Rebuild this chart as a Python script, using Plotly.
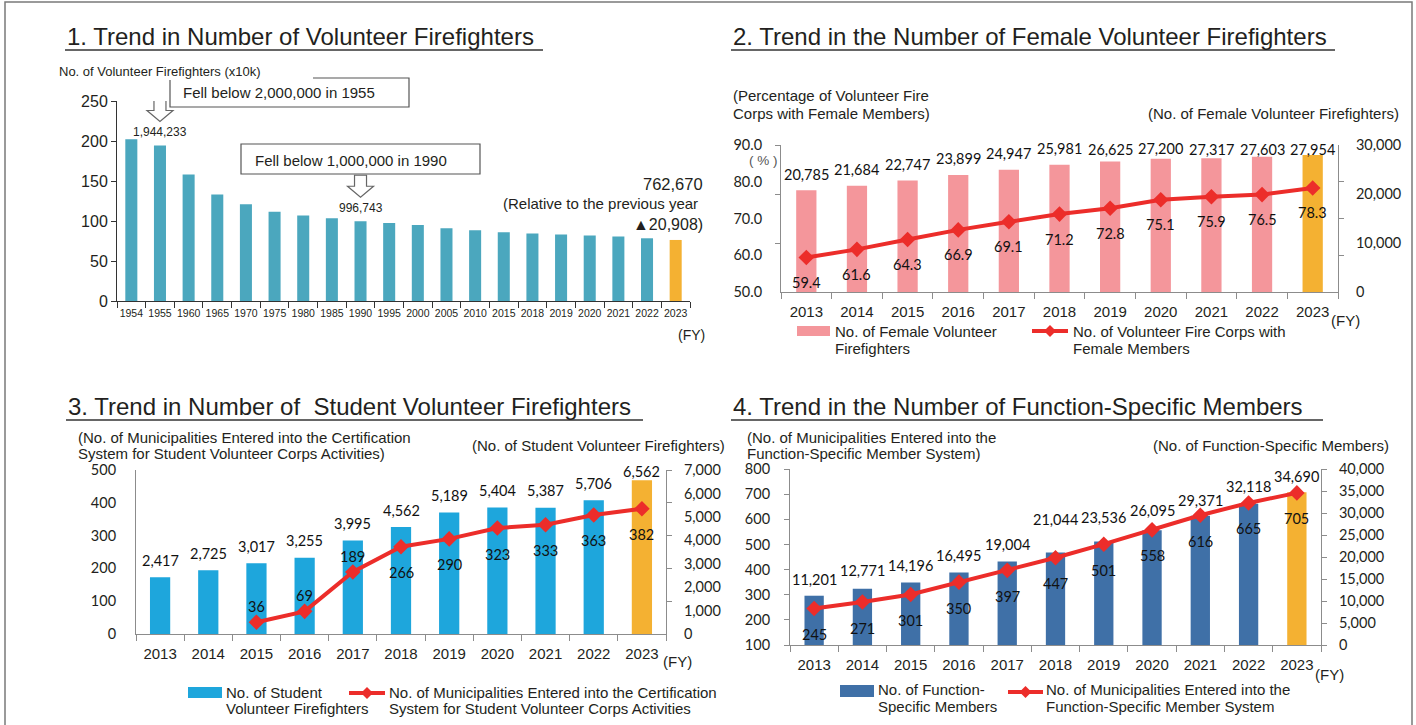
import plotly.graph_objects as go

W, H = 1416, 725
SANS = "Liberation Sans, Arial, Helvetica, sans-serif"
NUM = "Lato, Carlito, Calibri, sans-serif"

# ---------------- data ----------------
years1 = ["1954", "1955", "1960", "1965", "1970", "1975", "1980", "1985", "1990", "1995",
          "2000", "2005", "2010", "2015", "2018", "2019", "2020", "2021", "2022", "2023"]
volunteers_10k = [202.3, 194.4, 158.2, 133.0, 120.9, 111.7, 106.9, 103.3, 99.7, 97.6,
                  95.1, 90.8, 88.4, 86.0, 84.4, 83.2, 81.8, 80.5, 78.4, 76.3]
callout_years = ["1955", "1990"]
callout_labels = ["1,944,233", "996,743"]

years = ["2013", "2014", "2015", "2016", "2017", "2018", "2019", "2020", "2021", "2022", "2023"]
female_firefighters = [20785, 21684, 22747, 23899, 24947, 25981, 26625, 27200, 27317, 27603, 27954]
female_corps_pct = [59.4, 61.6, 64.3, 66.9, 69.1, 71.2, 72.8, 75.1, 75.9, 76.5, 78.3]

student_firefighters = [2417, 2725, 3017, 3255, 3995, 4562, 5189, 5404, 5387, 5706, 6562]
student_municipalities = [None, None, 36, 69, 189, 266, 290, 323, 333, 363, 382]

function_members = [11201, 12771, 14196, 16495, 19004, 21044, 23536, 26095, 29371, 32118, 34690]
function_municipalities = [245, 271, 301, 350, 397, 447, 501, 558, 616, 665, 705]

# label placement (style, not data)
student_line_label_side = ["", "", "up", "up", "up", "down", "down", "down", "down", "down", "down"]
function_bar_label_shift = [16, 18, 17, 17, 17, 33, 24, 20, 15, 17, 16]

# ---------------- styles ----------------
TEAL = "#4BA7BE"
ORANGE = "#F4B132"
PINK = "#F4969B"
SKY = "#1EA6DC"
STEEL = "#3F70A7"
RED = "#EC2D2A"
AX1 = "#333333"
AXG = "#8C8C8C"
TXT = "#231F20"


def px(x):
    return x / W


def py(y):
    return 1 - y / H


def colors(base, n):
    return [base] * (n - 1) + [ORANGE]


fig = go.Figure()

# ---------------- traces ----------------
fig.add_trace(go.Bar(x=years1, y=volunteers_10k, marker=dict(color=colors(TEAL, len(years1)), line_width=0),
                     width=0.42, xaxis="x", yaxis="y"))

fig.add_trace(go.Bar(x=years, y=female_firefighters, marker=dict(color=colors(PINK, len(years)), line_width=0),
                     width=0.4, xaxis="x2", yaxis="y2"))
fig.add_trace(go.Scatter(x=years, y=female_corps_pct, mode="lines+markers",
                         line=dict(color=RED, width=4), marker=dict(symbol="diamond", size=12, color=RED),
                         xaxis="x2", yaxis="y3"))

fig.add_trace(go.Bar(x=years, y=student_firefighters, marker=dict(color=colors(SKY, len(years)), line_width=0),
                     width=0.42, xaxis="x3", yaxis="y4"))
fig.add_trace(go.Scatter(x=years, y=student_municipalities, mode="lines+markers",
                         line=dict(color=RED, width=4), marker=dict(symbol="diamond", size=12, color=RED),
                         xaxis="x3", yaxis="y5"))

fig.add_trace(go.Bar(x=years, y=function_members, marker=dict(color=colors(STEEL, len(years)), line_width=0),
                     width=0.4, xaxis="x4", yaxis="y6"))
fig.add_trace(go.Scatter(x=years, y=function_municipalities, mode="lines+markers",
                         line=dict(color=RED, width=4), marker=dict(symbol="diamond", size=12, color=RED),
                         xaxis="x4", yaxis="y7"))

# empty traces that only carry the extra tick-mark axes
for xa, ya in [("x2", "y8"), ("x2", "y9"), ("x3", "y10")]:
    fig.add_trace(go.Scatter(x=[], y=[], xaxis=xa, yaxis=ya, hoverinfo="skip", showlegend=False))


# ---------------- axes ----------------
def cat_axis(x0, x1, anchor, color, size, cats, family=SANS, standoff=4):
    return dict(domain=[px(x0), px(x1)], anchor=anchor, type="category", categoryorder="array",
                categoryarray=cats, range=[-0.5, len(cats) - 0.5], autorange=False,
                showline=True, linecolor=color, automargin=False,
                linewidth=1, ticks="outside", tickson="boundaries", ticklen=6, tickcolor=color,
                tickangle=0, tickfont=dict(family=family, size=size, color=TXT), showgrid=False, zeroline=False,
                ticklabelstandoff=standoff, fixedrange=True)


def val_axis(y_bottom, y_top, anchor, rng, dtick, side, color, fmt, overlay=None, standoff=12, ticks=""):
    d = dict(anchor=anchor, range=rng, autorange=False, dtick=dtick, side=side, showline=True, linecolor=color,
             linewidth=1, automargin=False, ticks=ticks, ticklen=5, tickcolor=color,
             tickfont=dict(family=NUM, size=14.5, color=TXT), showgrid=False, zeroline=False,
             tickformat=fmt, ticklabelstandoff=standoff, fixedrange=True)
    if overlay:
        d["overlaying"] = overlay
    else:
        d["domain"] = [py(y_bottom), py(y_top)]
    return d


def tick_axis(anchor, overlay, side, rng, vals, color):
    return dict(anchor=anchor, overlaying=overlay, side=side, range=rng, autorange=False, tickvals=vals,
                ticks="outside", ticklen=5, tickcolor=color, showticklabels=False, showline=False,
                showgrid=False, zeroline=False, automargin=False, fixedrange=True)


fig.update_layout(
    width=W, height=H, margin=dict(l=0, r=0, t=0, b=0, pad=0, autoexpand=False), autosize=False,
    paper_bgcolor="white", plot_bgcolor="rgba(0,0,0,0)", showlegend=False,
    xaxis=cat_axis(117, 690, "y", AX1, 10.5, years1, standoff=2),
    yaxis=dict(domain=[py(301), py(101)], anchor="x", range=[0, 250], autorange=False, dtick=50, showline=True,
               linecolor=AX1, ticks="outside", ticklen=5, tickcolor=AX1, automargin=False,
               tickfont=dict(family=SANS, size=16, color=TXT), showgrid=False, zeroline=False, fixedrange=True),
    xaxis2=cat_axis(781, 1338, "y2", AXG, 15, years, standoff=6),
    yaxis2=val_axis(292, 145, "x2", [0, 30000], 10000, "right", AXG, ",d", standoff=14),
    yaxis3=val_axis(292, 145, "x2", [50, 90], 10, "left", AXG, ".1f", overlay="y2", standoff=15),
    yaxis8=tick_axis("x2", "y2", "left", [0, 30000], [10000, 20000, 30000], AXG),
    yaxis9=tick_axis("x2", "y2", "right", [50, 90], [60, 70, 80], AXG),
    xaxis3=cat_axis(136, 666, "y4", AXG, 15, years, standoff=6),
    yaxis4=val_axis(634, 470, "x3", [0, 7000], 1000, "right", AXG, ",d", standoff=14),
    yaxis5=val_axis(634, 470, "x3", [0, 500], 100, "left", AXG, "d", overlay="y4", standoff=16),
    yaxis10=tick_axis("x3", "y4", "right", [0, 500], [100, 200, 300, 400, 500], AXG),
    xaxis4=cat_axis(790, 1321, "y6", AXG, 15, years, standoff=6),
    yaxis6=val_axis(645, 469, "x4", [0, 40000], 5000, "right", AXG, ",d", standoff=9, ticks="outside"),
    yaxis7=val_axis(645, 469, "x4", [100, 800], 100, "left", AXG, "d", overlay="y6", standoff=11, ticks="outside"),
)


# ---------------- helpers ----------------
def text(t, x, y, size=15, xa="left", ya="middle", family=SANS, color=TXT):
    fig.add_annotation(text=t, x=px(x), y=py(y), xref="paper", yref="paper", xanchor=xa, yanchor=ya,
                       showarrow=False, font=dict(family=family, size=size, color=color))


def value_labels(vals, xref, yref, fmt, shift, size=14.5):
    for i, (v, s) in enumerate(zip(vals, shift)):
        if v is None or s is None:
            continue
        fig.add_annotation(x=i, y=v, xref=xref, yref=yref, text=fmt(v), yshift=s, showarrow=False,
                           yanchor="middle", font=dict(family=NUM, size=size, color="#111"))


def capped_shifts(vals, base, cap, px_per_unit):
    # keep labels from rising above the top of the plot area
    return [min(base, (cap - v) * px_per_unit) for v in vals]


def hline(x0, x1, y, color="#333", width=1.5):
    fig.add_shape(type="line", xref="paper", yref="paper", x0=px(x0), x1=px(x1), y0=py(y), y1=py(y),
                  line=dict(color=color, width=width))


def bar_key(x0, x1, y0, y1, color):
    fig.add_shape(type="rect", xref="paper", yref="paper", x0=px(x0), x1=px(x1), y0=py(y1), y1=py(y0),
                  fillcolor=color, line_width=0)


def line_key(x0, x1, y):
    hline(x0, x1, y, RED, 4)
    cx = (x0 + x1) / 2
    d = 6
    fig.add_shape(type="path", xref="paper", yref="paper",
                  path=f"M {px(cx - d)},{py(y)} L {px(cx)},{py(y - d)} L {px(cx + d)},{py(y)} L {px(cx)},{py(y + d)} Z",
                  fillcolor=RED, line_width=0)


# ---------------- frame ----------------
fig.add_shape(type="rect", xref="paper", yref="paper", x0=px(5), x1=px(1412), y0=py(760), y1=py(2),
              line=dict(color="#7A7A7A", width=1.5), fillcolor="rgba(0,0,0,0)", layer="below")

# ---------------- titles ----------------
text("1. Trend in Number of Volunteer Firefighters", 65, 36, 24)
hline(65, 543, 50)
text("2. Trend in the Number of Female Volunteer Firefighters", 731, 36, 24)
hline(731, 1335, 50)
text("3. Trend in Number of  Student Volunteer Firefighters", 66, 406, 24)
hline(66, 643, 420)
text("4. Trend in the Number of Function-Specific Members", 731, 406, 24)
hline(731, 1323, 420)

# ---------------- chart 1 annotations ----------------
text("No. of Volunteer Firefighters (x10k)", 57, 72, 13)
text("(FY)", 691, 335, 14, xa="center")
fig.add_shape(type="path", xref="paper", yref="paper",
              path=f"M {px(313)},{py(78)} L {px(409)},{py(78)} L {px(409)},{py(107)} L {px(170)},{py(107)} L {px(170)},{py(80)}",
              line=dict(color="#555", width=1.2))
text("Fell below 2,000,000 in 1955", 181, 93, 15)
fig.add_shape(type="rect", xref="paper", yref="paper", x0=px(241), x1=px(480), y0=py(174), y1=py(144),
              line=dict(color="#555", width=1.2))
text("Fell below 1,000,000 in 1990", 253, 160, 15)

arrow = "M -6,46 L 6,46 L 6,35 L 13,35 L 0,24 L -13,35 L -6,35 Z"
for cy, lab in zip(callout_years, callout_labels):
    idx = years1.index(cy)
    val = volunteers_10k[idx]
    fig.add_shape(type="path", xref="x", yref="y", xsizemode="pixel", ysizemode="pixel",
                  xanchor=idx, yanchor=val, path=arrow, line=dict(color="#666", width=1.2),
                  fillcolor="white")
    fig.add_annotation(x=idx, y=val, xref="x", yref="y", text=lab, yshift=13, showarrow=False,
                       font=dict(family=SANS, size=12, color=TXT))

text("762,670", 705, 184, 16.5, xa="right")
text("(Relative to the previous year", 700, 203, 15, xa="right")
text("▲20,908)", 705, 224, 16, xa="right")

# ---------------- chart 2 annotations ----------------
text("(Percentage of Volunteer Fire", 731, 96, 15)
text("Corps with Female Members)", 731, 113, 15)
text("(No. of Female Volunteer Firefighters)", 1401, 113, 15, xa="right")
text("( % )", 763, 160, 13.5, xa="center", color="#555")
text("(FY)", 1345, 320, 15, xa="center")
value_labels(female_firefighters, "x2", "y2", lambda v: f"{v:,}",
             capped_shifts(female_firefighters, 16, 29184, 147 / 30000))
value_labels(female_corps_pct, "x2", "y3", lambda v: f"{v:.1f}", [-25] * len(years))
bar_key(797, 830, 326, 336, PINK)
text("No. of Female Volunteer", 833, 331, 15)
text("Firefighters", 833, 348, 15)
line_key(1032, 1068, 331)
text("No. of Volunteer Fire Corps with", 1071, 331, 15)
text("Female Members", 1071, 348, 15)

# ---------------- chart 3 annotations ----------------
text("(No. of Municipalities Entered into the Certification", 76, 437, 15)
text("System for Student Volunteer Corps Activities)", 76, 453, 15)
text("(No. of Student Volunteer Firefighters)", 727, 445, 15, xa="right")
text("(FY)", 677, 661, 15, xa="center")
value_labels(student_firefighters, "x3", "y4", lambda v: f"{v:,}",
             capped_shifts(student_firefighters, 17, 6915, 164 / 7000))
value_labels(student_municipalities, "x3", "y5", lambda v: f"{v:d}",
             [16 if s == "up" else (-26 if s == "down" else None) for s in student_line_label_side])
bar_key(188, 222, 687, 698, SKY)
text("No. of Student", 224, 692, 15)
text("Volunteer Firefighters", 224, 708, 15)
line_key(349, 385, 693)
text("No. of Municipalities Entered into the Certification", 387, 692, 15)
text("System for Student Volunteer Corps Activities", 387, 708, 15)

# ---------------- chart 4 annotations ----------------
text("(No. of Municipalities Entered into the", 745, 437, 15)
text("Function-Specific Member System)", 745, 453, 15)
text("(No. of Function-Specific Members)", 1391, 445, 15, xa="right")
text("(FY)", 1329, 674, 15, xa="center")
value_labels(function_members, "x4", "y6", lambda v: f"{v:,}", function_bar_label_shift)
value_labels(function_municipalities, "x4", "y7", lambda v: f"{v:d}", [-26] * len(years))
bar_key(840, 874, 685, 697, STEEL)
text("No. of Function-", 876, 689, 15)
text("Specific Members", 876, 706, 15)
line_key(1008, 1043, 692)
text("No. of Municipalities Entered into the", 1044, 689, 15)
text("Function-Specific Member System", 1044, 706, 15)

fig.write_html("out.html", config={"displayModeBar": False},
               post_script="document.body.style.margin='0';document.body.style.overflow='hidden';")
